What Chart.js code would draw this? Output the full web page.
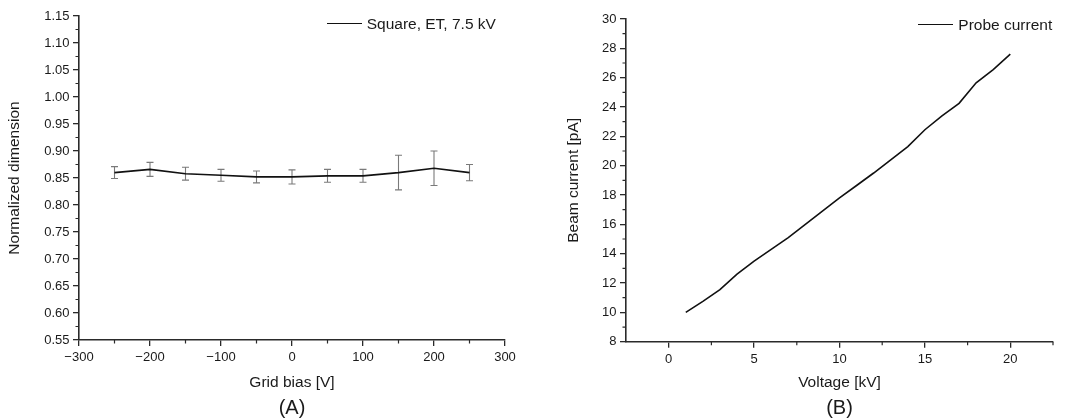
<!DOCTYPE html>
<html><head><meta charset="utf-8">
<script src="https://cdn.jsdelivr.net/npm/chart.js@4.4.1/dist/chart.umd.min.js"></script>
<style>
html,body{margin:0;padding:0;background:#fff;width:1076px;height:419px;overflow:hidden;}
#wa{position:absolute;left:0;top:0;width:540px;height:419px;}
#wb{position:absolute;left:540px;top:0;width:536px;height:419px;}
.lab{position:absolute;z-index:5;font-family:"Liberation Sans",Arial,sans-serif;font-size:20px;color:#1a1a1a;transform:translate(-50%,-50%);white-space:nowrap;}
.leg{position:absolute;z-index:5;font-family:"Liberation Sans",Arial,sans-serif;font-size:15.5px;color:#1a1a1a;white-space:nowrap;transform:translateY(-50%);line-height:18px;}
.leg span.ln{display:inline-block;width:35px;height:0;border-top:1.5px solid #111;vertical-align:middle;margin-right:5px;position:relative;top:-1px;}
</style></head><body>
<div id="wa"><canvas id="ca" width="540" height="419"></canvas></div>
<div id="wb"><canvas id="cb" width="536" height="419"></canvas></div>
<div class="lab" style="left:292px;top:407px">(A)</div>
<div class="lab" style="left:839.5px;top:407px">(B)</div>
<div class="leg" style="left:326.7px;top:23.5px"><span class="ln"></span>Square, ET, 7.5 kV</div>
<div class="leg" style="left:918.3px;top:25px"><span class="ln"></span>Probe current</div>
<script>
// ---- Data (A) ----
const gridBias = [-250, -200, -150, -100, -50, 0, 50, 100, 150, 200, 250];
const normDim  = [0.860, 0.866, 0.858, 0.855, 0.852, 0.852, 0.854, 0.854, 0.860, 0.868, 0.860];
const normErr  = [0.011, 0.013, 0.012, 0.011, 0.011, 0.013, 0.012, 0.012, 0.032, 0.032, 0.015];
const xTicksA  = [-300, -200, -100, 0, 100, 200, 300];
const xMinorA  = [-250, -150, -50, 50, 150, 250];
const yTicksA  = [0.55, 0.60, 0.65, 0.70, 0.75, 0.80, 0.85, 0.90, 0.95, 1.00, 1.05, 1.10, 1.15];
const yMinorA  = [0.575, 0.625, 0.675, 0.725, 0.775, 0.825, 0.875, 0.925, 0.975, 1.025, 1.075, 1.125];

// ---- Data (B) ----
const voltage     = [1, 2, 3, 4, 5, 6, 7, 8, 9, 10, 11, 12, 13, 14, 15, 16, 17, 18, 19, 20];
const beamCurrent = [10.0, 10.75, 11.55, 12.6, 13.5, 14.3, 15.1, 16.0, 16.9, 17.8, 18.65, 19.5, 20.4, 21.3, 22.45, 23.4, 24.25, 25.65, 26.55, 27.6];
const xTicksB  = [0, 5, 10, 15, 20];
const xMinorB  = [2.5, 7.5, 12.5, 17.5, 22.5];
const yTicksB  = [8, 10, 12, 14, 16, 18, 20, 22, 24, 26, 28, 30];
const yMinorB  = [9, 11, 13, 15, 17, 19, 21, 23, 25, 27, 29];

const FONT = '"Liberation Sans", Arial, sans-serif';
const TXT = '#1a1a1a';
const AX = '#2a2a2a';

const minorTicksPlugin = {
  id: 'minorTicks',
  afterDraw(chart, args, opts) {
    const ctx = chart.ctx, xs = chart.scales.x, ys = chart.scales.y;
    ctx.save();
    ctx.strokeStyle = AX; ctx.lineWidth = 1.2;
    ctx.beginPath();
    opts.x.forEach(v => { const p = xs.getPixelForValue(v); ctx.moveTo(p, xs.top); ctx.lineTo(p, xs.top + 3.5); });
    opts.y.forEach(v => { const p = ys.getPixelForValue(v); ctx.moveTo(ys.right, p); ctx.lineTo(ys.right - 3.5, p); });
    ctx.stroke();
    ctx.restore();
  }
};

const errorBarsPlugin = {
  id: 'errorBars',
  beforeDatasetsDraw(chart, args, opts) {
    const ctx = chart.ctx, xs = chart.scales.x, ys = chart.scales.y;
    ctx.save();
    ctx.strokeStyle = '#7a7a7a'; ctx.lineWidth = 1.1;
    ctx.beginPath();
    opts.xs.forEach((xv, i) => {
      const px = xs.getPixelForValue(xv);
      const pt = ys.getPixelForValue(opts.ys[i] + opts.err[i]);
      const pb = ys.getPixelForValue(opts.ys[i] - opts.err[i]);
      ctx.moveTo(px, pt); ctx.lineTo(px, pb);
      ctx.moveTo(px - 3.5, pt); ctx.lineTo(px + 3.5, pt);
      ctx.moveTo(px - 3.5, pb); ctx.lineTo(px + 3.5, pb);
    });
    ctx.stroke();
    ctx.restore();
  }
};

function fmtMinus(v) { return String(v).replace('-', '\u2212'); }

function axis(cfg) {
  return {
    type: 'linear',
    min: cfg.min, max: cfg.max,
    afterBuildTicks: s => { s.ticks = cfg.ticks.map(v => ({ value: v })); },
    afterFit: s => { if (cfg.w !== undefined) s.width = cfg.w; if (cfg.h !== undefined) s.height = cfg.h; },
    ticks: { callback: cfg.fmt, font: { family: FONT, size: 13 }, color: TXT, padding: 3.5, maxRotation: 0, autoSkip: false },
    grid: { drawOnChartArea: false, drawTicks: true, tickLength: 6, color: AX, lineWidth: 1.3 },
    border: { display: true, color: AX, width: 1.6 },
    title: { display: true, text: cfg.title, font: { family: FONT, size: 15.5 }, color: TXT, padding: { top: 0, bottom: 0 } }
  };
}

function makeChart(id, d) {
  const plugins = [minorTicksPlugin];
  if (d.err) plugins.push(errorBarsPlugin);
  return new Chart(document.getElementById(id), {
    type: 'line',
    data: { datasets: [{
      label: d.label,
      data: d.xs.map((x, i) => ({ x: x, y: d.ys[i] })),
      borderColor: '#111', borderWidth: 1.6, pointRadius: 0, tension: 0, fill: false
    }] },
    options: {
      responsive: false, animation: false,
      layout: { padding: d.pad },
      plugins: {
        legend: { display: false }, tooltip: { enabled: false },
        minorTicks: { x: d.xMinor, y: d.yMinor },
        errorBars: d.err ? { xs: d.xs, ys: d.ys, err: d.err } : undefined
      },
      scales: {
        x: axis({ min: d.xmin, max: d.xmax, ticks: d.xTicks, fmt: fmtMinus, title: d.xTitle, h: d.xh }),
        y: axis({ min: d.ymin, max: d.ymax, ticks: d.yTicks, fmt: d.yFmt, title: d.yTitle, w: d.yw })
      }
    },
    plugins: plugins
  });
}

makeChart('ca', {
  label: 'Square, ET, 7.5 kV', xs: gridBias, ys: normDim, err: normErr,
  xmin: -300, xmax: 300, ymin: 0.55, ymax: 1.15,
  xTicks: xTicksA, yTicks: yTicksA, xMinor: xMinorA, yMinor: yMinorA,
  yFmt: v => v.toFixed(2),
  xTitle: 'Grid bias [V]', yTitle: 'Normalized dimension',
  pad: { left: 5, right: 35, top: 16, bottom: 26.7 }, yw: 74, xh: 52.3
});

makeChart('cb', {
  label: 'Probe current', xs: voltage, ys: beamCurrent, err: null,
  xmin: -2.5, xmax: 22.5, ymin: 8, ymax: 30,
  xTicks: xTicksB, yTicks: yTicksB, xMinor: xMinorB, yMinor: yMinorB,
  yFmt: v => String(v),
  xTitle: 'Voltage [kV]', yTitle: 'Beam current [pA]',
  pad: { left: 24, right: 23, top: 19, bottom: 26.7 }, yw: 62, xh: 50.6
});
</script>
</body></html>
